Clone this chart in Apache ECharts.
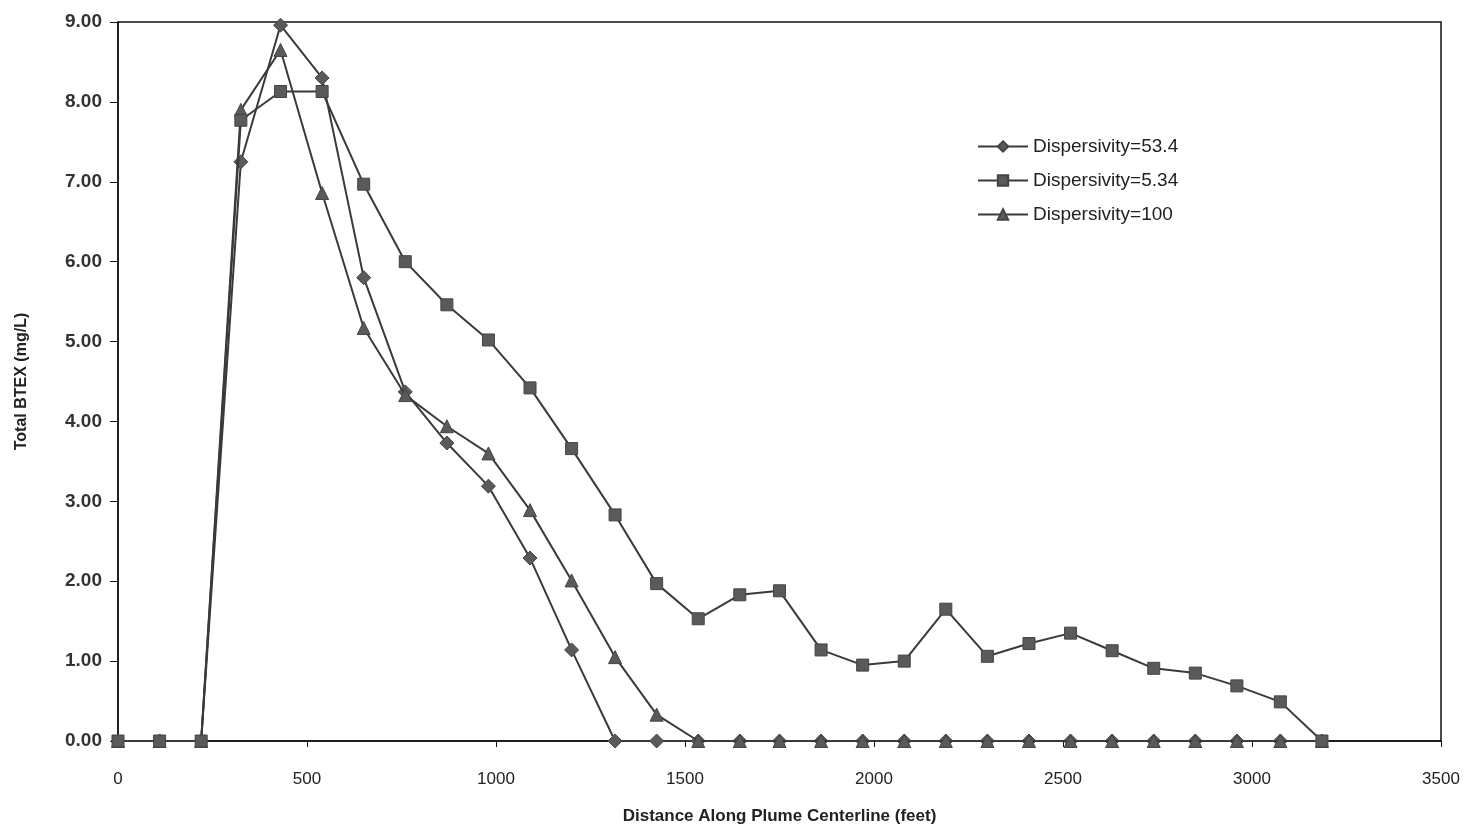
<!DOCTYPE html>
<html>
<head>
<meta charset="utf-8">
<script src="https://cdn.jsdelivr.net/npm/echarts@6/dist/echarts.min.js"></script>
<style>
  html, body { margin: 0; padding: 0; background: #fff; }
  #main { width: 1476px; height: 830px; }
</style>
</head>
<body>
<div id="main"></div>
<script>
// distance along plume centerline (feet)
var distance = [0, 110, 220, 325, 430, 540, 650, 760, 870, 980, 1090, 1200, 1315, 1425, 1535,
  1645, 1750, 1860, 1970, 2080, 2190, 2300, 2410, 2520, 2630, 2740, 2850, 2960, 3075, 3185];

// total BTEX (mg/L)
var disp53 = [0, 0, 0, 7.25, 8.96, 8.30, 5.80, 4.37, 3.73, 3.19, 2.29, 1.14, 0, 0, 0,
  0, 0, 0, 0, 0, 0, 0, 0, 0, 0, 0, 0, 0, 0, 0];
var disp5 = [0, 0, 0, 7.77, 8.13, 8.13, 6.97, 6.00, 5.46, 5.02, 4.42, 3.66, 2.83, 1.97, 1.53,
  1.83, 1.88, 1.14, 0.95, 1.00, 1.65, 1.06, 1.22, 1.35, 1.13, 0.91, 0.85, 0.69, 0.49, 0];
var disp100 = [0, 0, 0, 7.90, 8.65, 6.86, 5.17, 4.33, 3.94, 3.60, 2.89, 2.01, 1.05, 0.33, 0,
  0, 0, 0, 0, 0, 0, 0, 0, 0, 0, 0, 0, 0, 0, 0];

var names = ["Dispersivity=53.4", "Dispersivity=5.34", "Dispersivity=100"];

function pairs(ys) {
  return distance.map(function (x, i) { return [x, ys[i]]; });
}

var lineColor = "#3a3a3a";
var markColor = "#5a5a5a";
var font = "Liberation Sans";

function makeSeries(name, ys, symbol, size, z) {
  return {
    name: name,
    type: "line",
    data: pairs(ys),
    symbol: symbol,
    symbolSize: size,
    showAllSymbol: true,
    z: z,
    lineStyle: { color: lineColor, width: 2 },
    itemStyle: { color: markColor, borderColor: "#444", borderWidth: 1 },
    emphasis: { disabled: true }
  };
}

var myChart = echarts.init(document.getElementById("main"));

var option = {
  animation: false,
  backgroundColor: "#fff",
  grid: {
    left: 118,
    right: 35,
    top: 22,
    bottom: 89,
    outerBoundsMode: "none",
    containLabel: false,
    show: true,
    borderColor: "#111",
    borderWidth: 1.5
  },
  legend: {
    orient: "vertical",
    left: 972,
    top: 132,
    itemGap: 15,
    itemWidth: 50,
    itemHeight: 13,
    data: names,
    textStyle: { fontFamily: font, fontSize: 19, color: "#222" }
  },
  xAxis: {
    type: "value",
    min: 0,
    max: 3500,
    interval: 500,
    name: "Distance Along Plume Centerline (feet)",
    nameLocation: "middle",
    nameGap: 67,
    nameTextStyle: { fontFamily: font, fontSize: 17, fontWeight: "bold", color: "#222" },
    axisLine: { lineStyle: { color: "#111", width: 1.5 } },
    axisTick: { length: 6, lineStyle: { color: "#111" } },
    axisLabel: {
      fontFamily: font, fontSize: 17, color: "#222", margin: 30,
      formatter: function (v) { return String(v); }
    },
    splitLine: { show: false }
  },
  yAxis: {
    type: "value",
    min: 0,
    max: 9,
    interval: 1,
    name: "Total BTEX (mg/L)",
    nameLocation: "middle",
    nameGap: 88,
    nameTextStyle: { fontFamily: font, fontSize: 16, fontWeight: "bold", color: "#222" },
    axisLine: { show: true, lineStyle: { color: "#111", width: 1.5 } },
    axisTick: { show: true, length: 8, lineStyle: { color: "#111" } },
    axisLabel: {
      fontFamily: font, fontSize: 19, fontWeight: "bold", color: "#333", margin: 16,
      formatter: function (v) { return v.toFixed(2); }
    },
    splitLine: { show: false }
  },
  series: [
    makeSeries(names[0], disp53, "diamond", 14, 2),
    makeSeries(names[1], disp5, "rect", 12, 4),
    makeSeries(names[2], disp100, "triangle", 13, 3)
  ]
};

myChart.setOption(option);
</script>
</body>
</html>
